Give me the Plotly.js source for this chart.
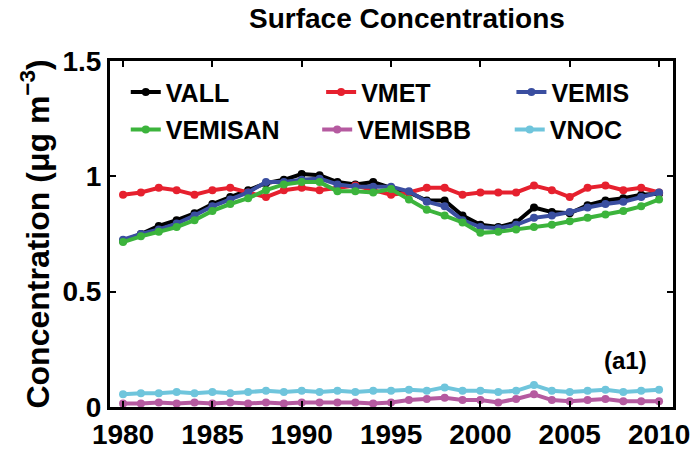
<!DOCTYPE html>
<html>
<head>
<meta charset="utf-8">
<script src="https://cdn.plot.ly/plotly-3.0.1.min.js"></script>
<style>html,body{margin:0;padding:0;background:#fff;}#chart{width:698px;height:450px;}</style>
</head>
<body>
<div id="chart"></div>
<script>
const years = [1980,1981,1982,1983,1984,1985,1986,1987,1988,1989,1990,1991,1992,1993,1994,1995,1996,1997,1998,1999,2000,2001,2002,2003,2004,2005,2006,2007,2008,2009,2010];

const VALL = [0.72,0.75,0.785,0.81,0.84,0.88,0.91,0.94,0.97,0.985,1.01,1.005,0.975,0.965,0.975,0.95,0.93,0.895,0.895,0.83,0.79,0.78,0.80,0.865,0.845,0.84,0.875,0.895,0.905,0.92,0.925];
const VMET = [0.92,0.93,0.95,0.94,0.92,0.94,0.95,0.93,0.91,0.94,0.95,0.94,0.95,0.96,0.94,0.92,0.93,0.95,0.95,0.92,0.93,0.93,0.93,0.96,0.94,0.91,0.95,0.96,0.94,0.95,0.93];
const VEMIS = [0.725,0.75,0.77,0.795,0.83,0.87,0.90,0.93,0.975,0.975,0.985,0.99,0.965,0.955,0.955,0.955,0.935,0.89,0.87,0.81,0.78,0.775,0.79,0.82,0.83,0.845,0.865,0.88,0.89,0.91,0.93];
const VEMISAN = [0.715,0.74,0.76,0.78,0.81,0.85,0.88,0.905,0.94,0.965,0.975,0.975,0.935,0.935,0.93,0.945,0.90,0.855,0.83,0.80,0.755,0.76,0.77,0.78,0.79,0.805,0.82,0.835,0.85,0.87,0.90];
const VEMISBB = [0.015,0.015,0.02,0.015,0.02,0.015,0.02,0.015,0.02,0.015,0.02,0.02,0.02,0.02,0.015,0.02,0.03,0.035,0.04,0.03,0.03,0.02,0.035,0.055,0.03,0.025,0.03,0.035,0.025,0.025,0.025];
const VNOC = [0.055,0.06,0.06,0.065,0.06,0.065,0.06,0.065,0.07,0.065,0.07,0.065,0.07,0.065,0.07,0.07,0.075,0.07,0.085,0.07,0.07,0.065,0.07,0.095,0.07,0.065,0.07,0.075,0.065,0.07,0.075];

const seriesNames = ['VALL','VMET','VEMIS','VEMISAN','VEMISBB','VNOC'];
const seriesData = [VALL, VMET, VEMIS, VEMISAN, VEMISBB, VNOC];
const seriesColors = ['#000000','#e6202e','#3a4ea0','#3cb43c','#b55aa0','#6fc5dc'];
const xTicks = [1980,1985,1990,1995,2000,2005,2010];
const yTicks = [0,0.5,1,1.5];
const yTickText = ['0','0.5','1','1.5'];

const FONT = 'Liberation Sans, Arial, Helvetica, sans-serif';
const legendIds = ['legend','legend2','legend3','legend4','legend5','legend6'];
const legendX = [0.028,0.375,0.713,0.028,0.368,0.710];
const legendY = [0.910,0.910,0.910,0.801,0.801,0.801];

const traces = seriesNames.map((n,i)=>({
  x: years, y: seriesData[i], name: n, type:'scatter', mode:'lines+markers',
  legend: legendIds[i],
  line:{color:seriesColors[i], width:4},
  marker:{color:seriesColors[i], size:8}
}));

const layout = {
  width:698, height:450,
  margin:{l:110, r:25, t:61, b:43},
  paper_bgcolor:'#fff', plot_bgcolor:'#fff',
  font:{family:FONT, weight:'bold', color:'#000', size:20},
  title:{text:'Surface Concentrations', font:{family:FONT, weight:'bold', size:28, color:'#000'}, x:0.583, xanchor:'center', y:0.96, yanchor:'middle'},
  xaxis:{range:[1979.27,2010.78], tickvals:xTicks, ticktext:xTicks.map(String), ticks:'inside', ticklen:6, tickwidth:2, tickcolor:'#000',
    showline:true, linewidth:3, linecolor:'#000', mirror:'ticks', showgrid:false, zeroline:false,
    tickfont:{family:FONT, weight:'bold', size:28, color:'#000'}},
  yaxis:{range:[0,1.5], tickvals:yTicks, ticktext:yTickText, ticks:'inside', ticklen:6, tickwidth:2, tickcolor:'#000',
    showline:true, linewidth:3, linecolor:'#000', mirror:'ticks', showgrid:false, zeroline:false,
    tickfont:{family:FONT, weight:'bold', size:28, color:'#000'},
    title:{text:'Concentration (μg m<sup>−3</sup>)', font:{family:FONT, weight:'bold', size:32, color:'#000'}, standoff:4}},
  showlegend:true,
  annotations:[{text:'(a1)', xref:'paper', yref:'paper', x:0.915, y:0.133, xanchor:'center', yanchor:'middle', showarrow:false,
    font:{family:FONT, weight:'bold', size:24, color:'#000'}}]
};
legendIds.forEach((id,i)=>{
  layout[id] = {x:legendX[i], y:legendY[i], xanchor:'left', yanchor:'middle', bgcolor:'rgba(0,0,0,0)', borderwidth:0,
    font:{family:FONT, weight:'bold', size:25, color:'#000'}};
});

Plotly.newPlot('chart', traces, layout, {displayModeBar:false, staticPlot:true});
</script>
</body>
</html>
